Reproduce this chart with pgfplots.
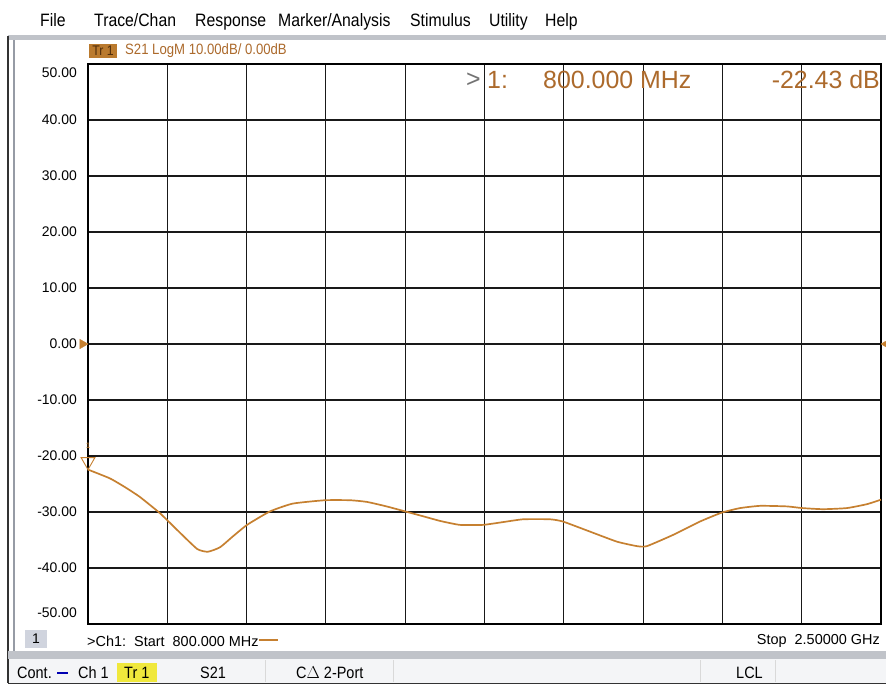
\documentclass[border=0pt]{standalone}
\usepackage{pgfplots}
\pgfplotsset{compat=1.18}
\usepackage{fontspec}
\setmainfont{Liberation Sans}
\newfontfamily\narrowfont[FakeStretch=0.88]{Liberation Sans}

\definecolor{trace}{RGB}{198,128,48}
\definecolor{mkrtext}{RGB}{172,106,44}
\definecolor{trbox}{RGB}{186,122,46}
\definecolor{trboxtext}{RGB}{80,45,10}
\definecolor{statbg}{RGB}{244,245,247}
\definecolor{frame}{RGB}{150,155,165}
\definecolor{chbox}{RGB}{208,212,222}
\definecolor{yel}{RGB}{240,232,60}

\pgfplotstableread{
f dB
800 -22.43
847 -24.0
880 -25.6
911 -27.3
954 -30.2
991 -33.2
1034 -36.6
1057 -37.1
1083 -36.3
1110 -34.4
1141 -32.3
1190 -29.9
1239 -28.5
1308 -27.9
1362 -27.9
1398 -28.2
1440 -29.0
1480 -29.9
1520 -30.8
1555 -31.6
1597 -32.3
1647 -32.3
1690 -31.8
1733 -31.3
1790 -31.3
1818 -31.7
1876 -33.5
1934 -35.3
1977 -36.1
1998 -36.1
2054 -34.1
2112 -31.7
2159 -30.1
2198 -29.3
2241 -28.9
2298 -29.0
2331 -29.3
2376 -29.5
2427 -29.3
2470 -28.6
2500 -27.8
}\sparam

\begin{document}
\begin{tikzpicture}[x=1bp,y=1bp]
\useasboundingbox (0,0) rectangle (886,685);
\clip (0,0) rectangle (886,685);
\fill[white] (0,0) rectangle (886,685);

% menu bar
\begin{scope}[every node/.style={anchor=base west, inner sep=0pt, font=\narrowfont\fontsize{18}{20}\selectfont}]
\node at (40,658) {File};
\node at (94,658) {Trace/Chan};
\node at (195,658) {Response};
\node at (278,658) {Marker/Analysis};
\node at (410,658) {Stimulus};
\node at (489,658) {Utility};
\node at (545,658) {Help};
\end{scope}

% window frame
\fill[frame!60] (8,645) rectangle (886,650);
\draw[black!80, line width=1.6] (8,2) -- (8,649);
\draw[frame, line width=1.2] (14,26) -- (14,645);
\fill[frame!60] (8,26) rectangle (886,34);
\fill[statbg] (9,2) rectangle (886,26);
\draw[black!80, line width=1.2] (8,1.5) -- (886,1.5);
\draw[black!15] (265,3) -- (265,25);
\draw[black!15] (393,3) -- (393,25);
\draw[black!15] (700,3) -- (700,25);
\draw[black!15] (775,3) -- (775,25);

% status bar
\begin{scope}[every node/.style={anchor=west, inner sep=0pt, font=\narrowfont\fontsize{16.5}{18}\selectfont}]
\node at (17,12) {Cont.};
\draw[blue!70!black, line width=1.5] (57,12) -- (68,12);
\node at (78,12) {Ch 1};
\fill[yel] (117,3) rectangle (157,22);
\node at (124,12) {Tr 1};
\node at (200,12) {S21};
\node at (296,12) {C$\Delta$ 2-Port};
\node at (736,12) {LCL};
\end{scope}

% trace header
\fill[trbox] (89,627) rectangle (117,641);
\node[font=\narrowfont\fontsize{14}{16}\selectfont, text=trboxtext, inner sep=0pt] at (103,634) {Tr 1};
\node[anchor=west, inner sep=0pt, font=\narrowfont\fontsize{15}{16}\selectfont, text=mkrtext] at (125,634) {S21 LogM 10.00dB/ 0.00dB};

% bottom channel line
\fill[chbox] (25,37) rectangle (47,55);
\node[font=\fontsize{14}{16}\selectfont, inner sep=0pt] at (36,46) {1};
\node[anchor=west, inner sep=0pt, font=\fontsize{14.5}{16}\selectfont] at (87,44) {>Ch1:\ \ Start\ \ 800.000 MHz};
\draw[trace, line width=1.5] (259,45) -- (278,45);
\node[anchor=east, inner sep=0pt, font=\fontsize{14.5}{16}\selectfont] at (880,44) {Stop\ \ 2.50000 GHz};

\begin{axis}[
    at={(88bp,61bp)}, anchor=south west,
    scale only axis,
    width=793bp, height=560bp,
    xmin=800, xmax=2500,
    ymin=-50, ymax=50,
    xtick={970,1140,1310,1480,1650,1820,1990,2160,2330},
    xticklabels={},
    ytick={-40,-30,-20,-10,0,10,20,30,40},
    yticklabels={-40.00,-30.00,-20.00,-10.00,0.00,10.00,20.00,30.00,40.00},
    yticklabel style={font=\fontsize{14}{16}\selectfont, inner sep=0pt, xshift=-11bp},
    major tick length=0pt,
    grid=major,
    grid style={black!90, line width=1.1pt},
    axis line style={black, line width=1.3pt},
    clip=false,
]
\addplot[trace, line width=1.7pt, smooth, tension=0.3] table[x=f, y=dB] {\sparam};
\addplot[only marks, mark=triangle, mark size=8bp, mark options={trace, line width=0.9pt, yshift=8bp, rotate=180}] coordinates {(800,-22.43)};
\addplot[only marks, mark=triangle*, mark size=5.5bp, mark options={trace, xshift=-5.5bp, rotate=-90}] coordinates {(800,0)};
\addplot[only marks, mark=triangle*, mark size=5.5bp, mark options={trace, xshift=5.5bp, rotate=90}] coordinates {(2500,0)};
\node[trace, inner sep=0pt, font=\fontsize{8}{8}\selectfont] at (axis cs:800,-22.43) [yshift=24bp] {1};
\node[anchor=east, inner sep=0pt, font=\fontsize{14}{16}\selectfont] at (axis cs:800,50) [xshift=-11bp, yshift=-9bp] {50.00};
\node[anchor=east, inner sep=0pt, font=\fontsize{14}{16}\selectfont] at (axis cs:800,-50) [xshift=-11bp, yshift=11bp] {-50.00};
% marker readout
\node[anchor=west, inner sep=0pt, font=\fontsize{25}{28}\selectfont, text=black!55] at (axis cs:800,50) [xshift=378bp, yshift=-16bp] {>};
\node[anchor=west, inner sep=0pt, font=\fontsize{25}{28}\selectfont, text=mkrtext] at (axis cs:800,50) [xshift=399bp, yshift=-16bp] {1:};
\node[anchor=west, inner sep=0pt, font=\fontsize{25}{28}\selectfont, text=mkrtext] at (axis cs:800,50) [xshift=455bp, yshift=-16bp] {800.000 MHz};
\node[anchor=east, inner sep=0pt, font=\fontsize{25}{28}\selectfont, text=mkrtext] at (axis cs:2500,50) [xshift=-1bp, yshift=-16bp] {-22.43 dB};
\end{axis}
\end{tikzpicture}
\end{document}
